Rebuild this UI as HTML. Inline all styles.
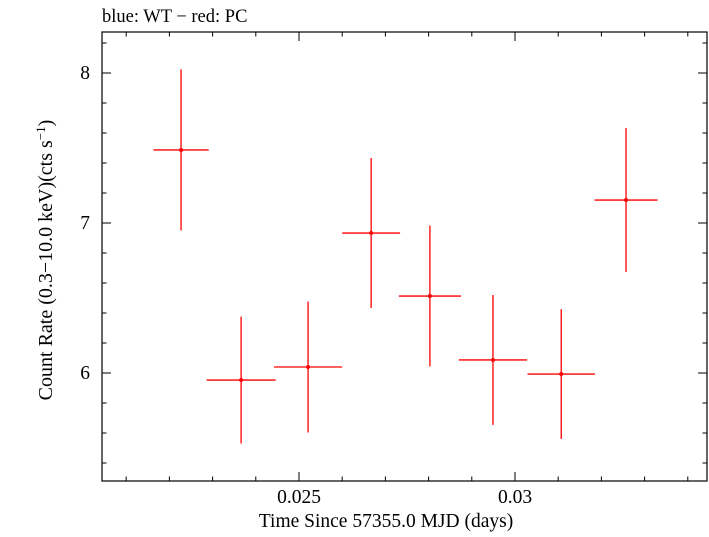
<!DOCTYPE html>
<html><head><meta charset="utf-8"><style>body{margin:0;background:#fff}svg text{font-family:"Liberation Serif",serif}</style></head><body>
<svg id="chart" width="709" height="532" xmlns="http://www.w3.org/2000/svg">
<text x="102" y="22" font-size="18.5">blue: WT − red: PC</text>
<rect x="102" y="32" width="605" height="449" fill="none" stroke="#000" stroke-width="1.2"/>
<g id="ticks"></g><g id="marks"></g>
<text x="386" y="527" font-size="19.5" text-anchor="middle">Time Since 57355.0 MJD (days)</text>
<text transform="translate(52,260) rotate(-90)" font-size="20" text-anchor="middle">Count Rate (0.3−10.0 keV)(cts s<tspan dy="-7" font-size="13">−1</tspan><tspan dy="7">)</tspan></text>
</svg>
<script>
const xVals=[0.02227,0.02366,0.02521,0.02667,0.02803,0.02949,0.03107,0.03257];
const xErr=[0.00064,0.0008,0.00079,0.00067,0.00072,0.00079,0.00078,0.00073];
const yVals=[7.487,5.953,6.04,6.933,6.513,6.087,5.993,7.153];
const yErr=[0.537,0.423,0.437,0.5,0.47,0.433,0.433,0.48];
const xTicks=[0.025,0.03];
const xTickLabels=["0.025","0.03"];
const yTicks=[6,7,8];
const yTickLabels=["6","7","8"];
const NS="http://www.w3.org/2000/svg";
const L=102,R=707,T=32,B=481;
const X=v=>299+(v-0.025)*43200;
const Y=v=>73+(8-v)*150;
function mk(tag,at,parent){const e=document.createElementNS(NS,tag);for(const k in at)e.setAttribute(k,at[k]);parent.appendChild(e);return e;}
const tg=document.getElementById('ticks'),mg=document.getElementById('marks');
for(let i=-5;i<=11;i++){const v=0.025+i*0.001;const x=X(v);if(x<=L||x>=R)continue;const major=(i%5===0);const len=major?9:4.5;
 const a=mk('line',{x1:x,x2:x,y1:B,y2:B-len,stroke:'#000'},tg);
 const b=mk('line',{x1:x,x2:x,y1:T,y2:T+len,stroke:'#000'},tg);}
for(let i=0;i<=20;i++){const v=5+i*0.2;const y=Y(v);if(y<=T||y>=B)continue;const major=Math.abs(v-Math.round(v))<1e-6;const len=major?9:4.5;
 const a=mk('line',{x1:L,x2:L+len,y1:y,y2:y,stroke:'#000'},tg);
 const b=mk('line',{x1:R,x2:R-len,y1:y,y2:y,stroke:'#000'},tg);}
xTicks.forEach((v,i)=>{const t=mk('text',{x:X(v),y:503,'font-size':19.5,'text-anchor':'middle'},tg);t.textContent=xTickLabels[i];});
yTicks.forEach((v,i)=>{const t=mk('text',{x:90,y:Y(v)+6,'font-size':19.5,'text-anchor':'end'},tg);t.textContent=yTickLabels[i];});
xVals.forEach((v,i)=>{const g=mk('g',{},mg);
 mk('line',{x1:X(v-xErr[i]),x2:X(v+xErr[i]),y1:Y(yVals[i]),y2:Y(yVals[i]),stroke:'#f00','stroke-width':1.3},g);
 mk('line',{x1:X(v),x2:X(v),y1:Y(yVals[i]-yErr[i]),y2:Y(yVals[i]+yErr[i]),stroke:'#f00','stroke-width':1.3},g);
 mk('circle',{cx:X(v),cy:Y(yVals[i]),r:2,fill:'#f00'},g);});
</script>
</body></html>
